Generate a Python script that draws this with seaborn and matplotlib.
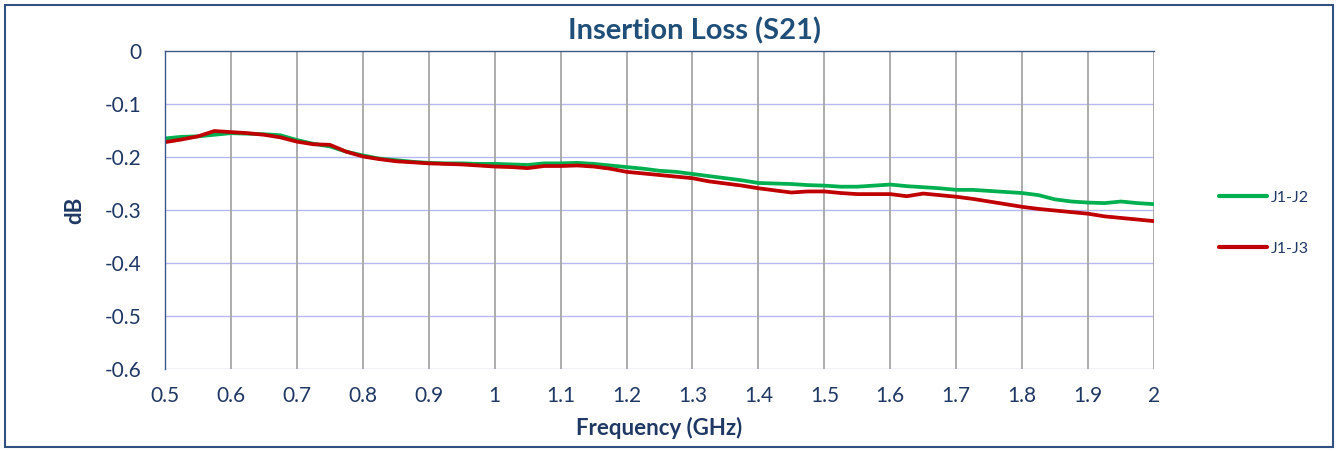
import numpy as np
import pandas as pd
import matplotlib
matplotlib.use("Agg")
import matplotlib.pyplot as plt
from matplotlib.patches import Rectangle
import seaborn as sns

freq = [0.500, 0.525, 0.550, 0.575, 0.600, 0.625, 0.650, 0.675, 0.700, 0.725,
        0.750, 0.775, 0.800, 0.825, 0.850, 0.875, 0.900, 0.925, 0.950, 0.975,
        1.000, 1.025, 1.050, 1.075, 1.100, 1.125, 1.150, 1.175, 1.200, 1.225,
        1.250, 1.275, 1.300, 1.325, 1.350, 1.375, 1.400, 1.425, 1.450, 1.475,
        1.500, 1.525, 1.550, 1.575, 1.600, 1.625, 1.650, 1.675, 1.700, 1.725,
        1.750, 1.775, 1.800, 1.825, 1.850, 1.875, 1.900, 1.925, 1.950, 1.975,
        2.000]

j1_j2 = [-0.165, -0.162, -0.161, -0.158, -0.155, -0.156, -0.157, -0.159, -0.168, -0.175,
         -0.180, -0.190, -0.197, -0.203, -0.206, -0.209, -0.211, -0.212, -0.212, -0.213,
         -0.213, -0.214, -0.215, -0.212, -0.212, -0.211, -0.213, -0.216, -0.219, -0.222,
         -0.226, -0.228, -0.232, -0.236, -0.240, -0.244, -0.249, -0.250, -0.251, -0.253,
         -0.254, -0.256, -0.256, -0.254, -0.252, -0.255, -0.257, -0.259, -0.262, -0.262,
         -0.264, -0.266, -0.268, -0.272, -0.280, -0.284, -0.286, -0.287, -0.284, -0.287,
         -0.289]

j1_j3 = [-0.172, -0.167, -0.161, -0.151, -0.153, -0.155, -0.158, -0.163, -0.171, -0.176,
         -0.177, -0.190, -0.199, -0.204, -0.208, -0.210, -0.212, -0.213, -0.214, -0.216,
         -0.218, -0.219, -0.221, -0.217, -0.217, -0.216, -0.218, -0.222, -0.228, -0.231,
         -0.234, -0.237, -0.240, -0.246, -0.250, -0.254, -0.259, -0.263, -0.267, -0.265,
         -0.265, -0.268, -0.270, -0.270, -0.270, -0.274, -0.269, -0.272, -0.275, -0.279,
         -0.284, -0.289, -0.294, -0.298, -0.301, -0.304, -0.307, -0.312, -0.315, -0.318,
         -0.321]

series_names = ["J1-J2", "J1-J3"]
series_colors = ["#00B050", "#C00000"]
x_ticks = [0.5, 0.6, 0.7, 0.8, 0.9, 1.0, 1.1, 1.2, 1.3, 1.4, 1.5, 1.6, 1.7, 1.8, 1.9, 2.0]
x_tick_labels = ["0.5", "0.6", "0.7", "0.8", "0.9", "1", "1.1", "1.2", "1.3", "1.4",
                 "1.5", "1.6", "1.7", "1.8", "1.9", "2"]
y_ticks = [0, -0.1, -0.2, -0.3, -0.4, -0.5, -0.6]
y_tick_labels = ["0", "-0.1", "-0.2", "-0.3", "-0.4", "-0.5", "-0.6"]

df = pd.DataFrame({
    "freq": freq * 2,
    "dB": j1_j2 + j1_j3,
    "series": [series_names[0]] * len(freq) + [series_names[1]] * len(freq),
})

sns.set_theme(style="white")
plt.rcParams["font.family"] = ["Lato", "DejaVu Sans"]

text_color = "#1F3864"
title_color = "#1F4E79"
fig = plt.figure(figsize=(13.38, 4.51), dpi=100)
ax = fig.add_axes([165 / 1338, 1 - 369 / 451, (1154 - 165) / 1338, (369 - 51) / 451])

sns.lineplot(data=df, x="freq", y="dB", hue="series", palette=series_colors,
             linewidth=2.7, ax=ax, legend=True)

ax.set_xlim(0.5, 2.0)
ax.set_ylim(-0.6, 0)
ax.set_xticks(x_ticks)
ax.set_xticklabels(x_tick_labels)
ax.set_yticks(y_ticks)
ax.set_yticklabels(y_tick_labels)
ax.tick_params(axis="both", length=0, labelsize=15, colors=text_color)
ax.tick_params(axis="x", pad=12)
ax.tick_params(axis="y", pad=17)

# gridlines
for yv in y_ticks[1:]:
    ax.axhline(yv, color="#B8B8F0", linewidth=1.0, zorder=0)
for xv in x_ticks[1:]:
    ax.axvline(xv, color="#A6A6A6", linewidth=1.3, zorder=0)

for s in ["right", "bottom"]:
    ax.spines[s].set_visible(False)
ax.spines["left"].set_color("#3B5A8A")
ax.spines["left"].set_linewidth(1.0)
ax.spines["top"].set_color("#3B5A8A")
ax.spines["top"].set_linewidth(1.0)

ax.set_xlabel("Frequency (GHz)", fontsize=16, fontweight="bold", color=text_color, labelpad=8)
ax.set_ylabel("dB", fontsize=16, fontweight="bold", color=text_color, labelpad=14)

fig.text(694 / 1338, 1 - 31 / 451, "Insertion Loss (S21)", fontsize=21, fontweight="bold",
         color=title_color, ha="center", va="center")

leg = ax.legend(loc="center left", bbox_to_anchor=(1205 / 1338, 1 - 223 / 451),
                bbox_transform=fig.transFigure, frameon=False, fontsize=11.5,
                handlelength=3.0, handletextpad=0.2, labelspacing=2.3)
for t in leg.get_texts():
    t.set_color(text_color)
for h in leg.get_lines():
    h.set_linewidth(3)

fig.patches.append(Rectangle((5 / 1338, 4 / 451), 1328 / 1338, 442 / 451,
                             transform=fig.transFigure, fill=False,
                             edgecolor="#2F5080", linewidth=1.5))

fig.savefig("out.png", dpi=100)
